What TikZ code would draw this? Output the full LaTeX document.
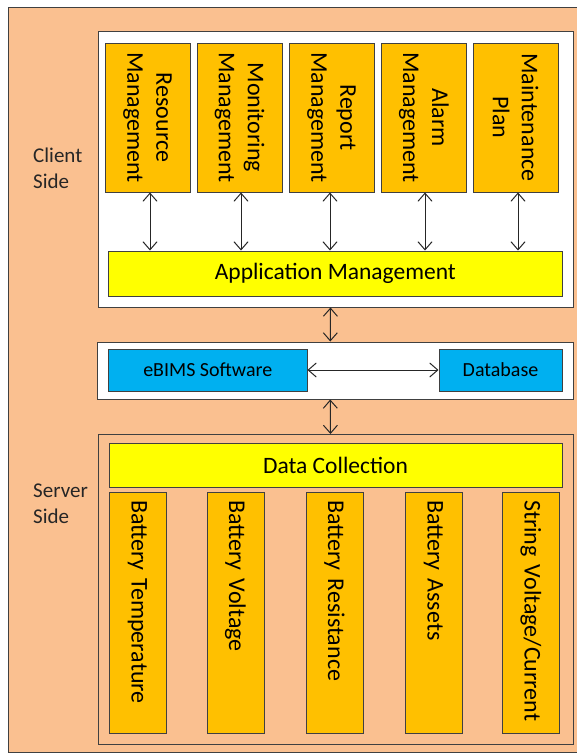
\documentclass[tikz,border=0pt]{standalone}
\usepackage{fontspec}
\setmainfont{Carlito}
\usetikzlibrary{arrows.meta,calc}
\definecolor{peach}{HTML}{FAC090}
\definecolor{orangebox}{HTML}{FFC000}
\definecolor{yellowbox}{HTML}{FFFF00}
\definecolor{bluebox}{HTML}{00B0F0}
\definecolor{edge}{HTML}{404040}
\tikzset{
  base/.style={draw=edge, line width=1pt, inner sep=0pt, text=black},
  panel/.style={base, fill=white},
  topbox/.style={base, fill=orangebox, rotate=-90, minimum width=149pt, minimum height=85pt, align=center, font=\fontsize{24}{29}\selectfont},
  botbox/.style={base, fill=orangebox, rotate=-90, minimum height=57pt, inner xsep=8pt, text width=225pt, align=left, font=\fontsize{24}{28}\selectfont},
  barbox/.style={base, fill=yellowbox, font=\fontsize{23.5}{28}\selectfont},
  bluebx/.style={base, fill=bluebox, font=\fontsize{20}{24}\selectfont},
  sidelabel/.style={align=left, anchor=west, inner sep=0pt, font=\fontsize{21}{26}\selectfont, text=black!85},
  link/.style={draw=black!85, line width=1pt, {Straight Barb[length=8pt,width=14pt]}-{Straight Barb[length=8pt,width=14pt]}}
}
\begin{document}
\begin{tikzpicture}[x=1pt,y=-1pt]
\useasboundingbox (0,0) rectangle (577,753);
% outer background
\fill[peach] (8,7) rectangle (590,752);
\draw[edge, line width=1pt] (590,7) -- (8,7) -- (8,752) -- (590,752);

% client panel
\node[panel, minimum width=475pt, minimum height=276pt] (client) at (335.5,169) {};
\node[topbox] (t1) at (147.5,117.5) {Resource\\Management};
\node[topbox] (t2) at (239.5,117.5) {Monitoring\\Management};
\node[topbox] (t3) at (331.5,117.5) {Report\\Management};
\node[topbox] (t4) at (424,117.5) {Alarm\\Management};
\node[topbox] (t5) at (515.5,117.5) {Maintenance\\Plan};
\node[barbox, minimum width=453.4pt, minimum height=45pt] (app) at (335.3,273.5) {Application Management};

\foreach \t/\dx in {t1/2.5,t2/1.5,t3/-1.5,t4/1,t5/2.5}{
  \draw[link] ([xshift=\dx pt]\t.east) -- ([xshift=\dx pt]\t.east |- app.north);
}

% middle panel
\node[panel, minimum width=475.5pt, minimum height=57pt] (mid) at (335.25,370.5) {};
\node[bluebx, minimum width=198.4pt, minimum height=42pt] (ebims) at (207.8,370) {eBIMS Software};
\node[bluebx, minimum width=123pt, minimum height=42pt] (db) at (500.5,370) {Database};
\draw[link] (ebims.east) -- (db.west);

% server panel
\node[base, fill=none, minimum width=475pt, minimum height=310pt] (server) at (335.5,589.5) {};
\node[barbox, minimum width=453pt, minimum height=44pt] (dc) at (335.5,465) {Data Collection};
\node[botbox] (b1) at (137.5,612.5) {Battery Temperature};
\node[botbox] (b2) at (235.5,612.5) {Battery Voltage};
\node[botbox] (b3) at (334.5,612.5) {Battery Resistance};
\node[botbox] (b4) at (433.5,612.5) {Battery Assets};
\node[botbox] (b5) at (531,612.5) {String Voltage/Current};

% vertical links between panels
\draw[link] ([xshift=-5pt]client.south) -- ([xshift=-5pt]mid.north);
\draw[link] ([xshift=-5pt]mid.south) -- ([xshift=-5pt]server.north);

% side labels
\node[sidelabel] (cl) at (33,168) {Client\\Side};
\node[sidelabel] (sl) at (33,504) {Server\\Side};
\end{tikzpicture}
\end{document}
